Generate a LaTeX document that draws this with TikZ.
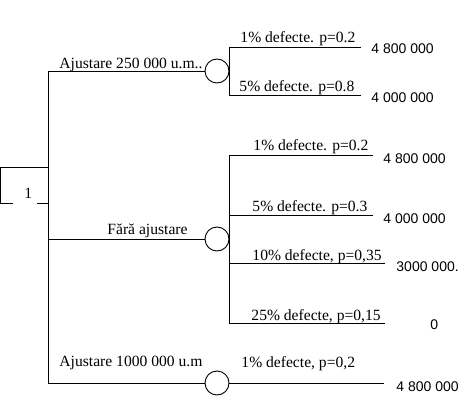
\documentclass[tikz,border=0pt]{standalone}
\usepackage{fontspec}
\setmainfont{Liberation Serif}
\newfontfamily\valfont{Liberation Sans}
\usetikzlibrary{positioning}

\begin{document}
\begin{tikzpicture}[
  x=1pt, y=-1pt, line width=0.9pt,
  chance/.style={draw, circle, minimum size=24pt, inner sep=0pt},
  lbl/.style={anchor=base west, inner sep=0pt, font=\fontsize{15.6}{18}\selectfont},
  val/.style={anchor=base west, inner sep=0pt, font=\valfont\fontsize{14}{16}\selectfont}
]
  \useasboundingbox (0,0) rectangle (471,420);

  % decision node
  \node[lbl] (dec) at (24,198) {1};
  \coordinate (rootT) at (48,71);
  \coordinate (rootB) at (48,383);
  \draw (48,167) -- (0,167) -- (0,203) -- (13,203);
  \draw (37,203) -- (48,203);
  \draw (rootT) -- (rootB);

  % chance nodes
  \node[chance] (c1) at (217,71) {};
  \node[chance] (c2) at (217,239) {};
  \node[chance] (c3) at (217,383) {};
  \coordinate (r2) at (48,239);
  \draw (rootT) -- (c1);
  \draw (r2) -- (c2);
  \draw (rootB) -- (c3);

  \node[lbl] (a1) at (59,68) {Ajustare 250 000 u.m..};
  \node[lbl] (a2) at (107,234) {Fără ajustare};
  \node[lbl] (a3) at (59,366) {Ajustare 1000 000 u.m};

  % outcomes of c1
  \coordinate (p11) at (229,47);
  \coordinate (p12) at (229,95);
  \coordinate (e11) at (361,47);
  \coordinate (e12) at (361,95);
  \draw (p11) -- (p12);
  \draw (p11) -- (e11);
  \draw (p12) -- (e12);
  \node[lbl] at (240,43) {1\% defecte. p=0.2};
  \node[lbl] at (239,91) {5\% defecte. p=0.8};
  \node[val] (v11) at (371,53) {4 800 000};
  \node[val] (v12) at (371,102) {4 000 000};

  % outcomes of c2
  \coordinate (p21) at (229,155);
  \coordinate (p22) at (229,215);
  \coordinate (p23) at (229,263);
  \coordinate (p24) at (229,323);
  \coordinate (e21) at (373,155);
  \coordinate (e22) at (373,215);
  \coordinate (e23) at (385,263);
  \coordinate (e24) at (385,323);
  \draw (p21) -- (p24);
  \draw (p21) -- (e21);
  \draw (p22) -- (e22);
  \draw (p23) -- (e23);
  \draw (p24) -- (e24);
  \node[lbl] at (253,150) {1\% defecte. p=0.2};
  \node[lbl] at (252,211) {5\% defecte. p=0.3};
  \node[lbl] at (252,260) {10\% defecte, p=0,35};
  \node[lbl] at (251,320) {25\% defecte, p=0,15};
  \node[val] (v21) at (383,163) {4 800 000};
  \node[val] (v22) at (383,223) {4 000 000};
  \node[val] (v23) at (396,271) {3000 000.};
  \node[val] (v24) at (430,329) {0};

  % outcome of c3
  \coordinate (e31) at (384,383);
  \draw (c3) -- (e31);
  \node[lbl] at (241,367) {1\% defecte, p=0,2};
  \node[val] (v31) at (396,391) {4 800 000};
\end{tikzpicture}
\end{document}
